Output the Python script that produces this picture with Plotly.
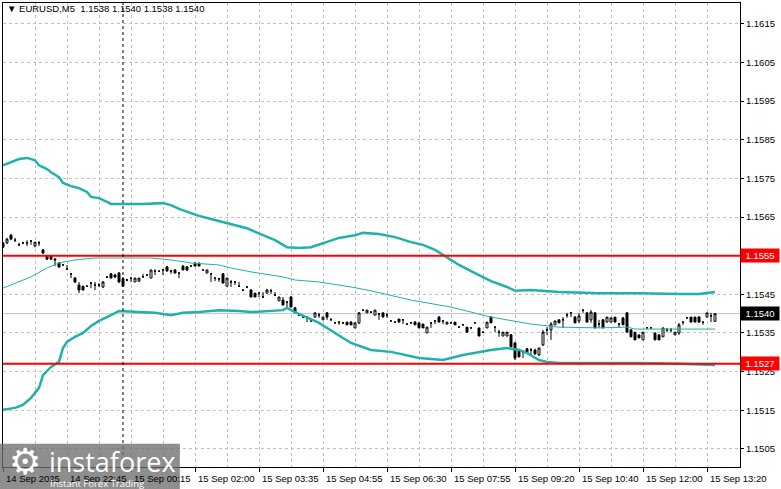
import plotly.graph_objects as go

# EURUSD M5, one bar every 5 minutes (bar index on the x axis)
bar_open = [
    1.15583, 1.15583, 1.15603, 1.15590, 1.15578, 1.15583, 1.15583, 1.15588, 1.15575, 1.15583,
    1.15565, 1.15549, 1.15549, 1.15541, 1.15531, 1.15526, 1.15515, 1.15503, 1.15492, 1.15474,
    1.15471, 1.15471, 1.15479, 1.15474, 1.15474, 1.15469, 1.15495, 1.15503, 1.15500, 1.15505,
    1.15490, 1.15487, 1.15492, 1.15482, 1.15484, 1.15495, 1.15500, 1.15492, 1.15510, 1.15510,
    1.15513, 1.15521, 1.15510, 1.15513, 1.15505, 1.15523, 1.15521, 1.15523, 1.15531, 1.15531,
    1.15513, 1.15505, 1.15503, 1.15492, 1.15490, 1.15503, 1.15471, 1.15482, 1.15482, 1.15471,
    1.15461, 1.15469, 1.15461, 1.15453, 1.15453, 1.15443, 1.15453, 1.15459, 1.15448, 1.15433,
    1.15435, 1.15430, 1.15443, 1.15415, 1.15396, 1.15391, 1.15391, 1.15381, 1.15391, 1.15396,
    1.15384, 1.15402, 1.15384, 1.15376, 1.15378, 1.15376, 1.15378, 1.15378, 1.15363, 1.15376,
    1.15409, 1.15402, 1.15404, 1.15396, 1.15399, 1.15402, 1.15396, 1.15381, 1.15378, 1.15386,
    1.15384, 1.15373, 1.15376, 1.15378, 1.15376, 1.15373, 1.15350, 1.15376, 1.15381, 1.15391,
    1.15381, 1.15373, 1.15376, 1.15378, 1.15365, 1.15371, 1.15365, 1.15363, 1.15376, 1.15363,
    1.15352, 1.15363, 1.15391, 1.15365, 1.15352, 1.15342, 1.15342, 1.15345, 1.15324, 1.15306,
    1.15301, 1.15309, 1.15306, 1.15306, 1.15293, 1.15319, 1.15358, 1.15358, 1.15371, 1.15384,
    1.15384, 1.15396, 1.15402, 1.15391, 1.15381, 1.15409, 1.15402, 1.15384, 1.15402, 1.15373,
    1.15384, 1.15378, 1.15378, 1.15391, 1.15373, 1.15389, 1.15402, 1.15358, 1.15352, 1.15345,
    1.15332, 1.15363, 1.15363, 1.15350, 1.15345, 1.15340, 1.15358, 1.15358, 1.15345, 1.15350,
    1.15378, 1.15389, 1.15391, 1.15391, 1.15391, 1.15378, 1.15391, 1.15394, 1.15380,
]
bar_high = [
    1.15585, 1.15596, 1.15606, 1.15596, 1.15583, 1.15583, 1.15590, 1.15588, 1.15585, 1.15588,
    1.15567, 1.15552, 1.15549, 1.15544, 1.15534, 1.15526, 1.15526, 1.15503, 1.15495, 1.15482,
    1.15471, 1.15471, 1.15482, 1.15482, 1.15479, 1.15484, 1.15495, 1.15505, 1.15503, 1.15508,
    1.15495, 1.15490, 1.15492, 1.15492, 1.15492, 1.15503, 1.15500, 1.15513, 1.15515, 1.15510,
    1.15513, 1.15523, 1.15513, 1.15515, 1.15505, 1.15526, 1.15523, 1.15523, 1.15531, 1.15531,
    1.15513, 1.15513, 1.15505, 1.15492, 1.15492, 1.15505, 1.15492, 1.15487, 1.15482, 1.15482,
    1.15461, 1.15469, 1.15464, 1.15453, 1.15453, 1.15456, 1.15464, 1.15464, 1.15456, 1.15443,
    1.15443, 1.15430, 1.15446, 1.15417, 1.15396, 1.15391, 1.15391, 1.15389, 1.15402, 1.15402,
    1.15391, 1.15404, 1.15389, 1.15376, 1.15378, 1.15376, 1.15378, 1.15381, 1.15376, 1.15404,
    1.15409, 1.15409, 1.15404, 1.15409, 1.15402, 1.15402, 1.15402, 1.15381, 1.15378, 1.15386,
    1.15386, 1.15373, 1.15376, 1.15381, 1.15376, 1.15373, 1.15365, 1.15376, 1.15381, 1.15394,
    1.15381, 1.15378, 1.15376, 1.15378, 1.15365, 1.15371, 1.15365, 1.15363, 1.15376, 1.15363,
    1.15352, 1.15378, 1.15394, 1.15365, 1.15358, 1.15352, 1.15352, 1.15347, 1.15327, 1.15309,
    1.15306, 1.15311, 1.15311, 1.15309, 1.15311, 1.15358, 1.15365, 1.15378, 1.15381, 1.15384,
    1.15391, 1.15402, 1.15402, 1.15394, 1.15402, 1.15409, 1.15404, 1.15409, 1.15404, 1.15384,
    1.15386, 1.15391, 1.15389, 1.15391, 1.15376, 1.15391, 1.15404, 1.15358, 1.15352, 1.15345,
    1.15352, 1.15363, 1.15363, 1.15350, 1.15345, 1.15363, 1.15363, 1.15363, 1.15352, 1.15376,
    1.15378, 1.15389, 1.15391, 1.15391, 1.15394, 1.15378, 1.15402, 1.15402, 1.15400,
]
bar_low = [
    1.15570, 1.15580, 1.15590, 1.15585, 1.15575, 1.15580, 1.15575, 1.15578, 1.15572, 1.15575,
    1.15554, 1.15539, 1.15541, 1.15523, 1.15518, 1.15526, 1.15513, 1.15492, 1.15479, 1.15453,
    1.15461, 1.15469, 1.15466, 1.15461, 1.15469, 1.15466, 1.15492, 1.15492, 1.15492, 1.15479,
    1.15469, 1.15484, 1.15482, 1.15482, 1.15482, 1.15495, 1.15497, 1.15492, 1.15500, 1.15508,
    1.15500, 1.15510, 1.15503, 1.15505, 1.15492, 1.15513, 1.15510, 1.15523, 1.15523, 1.15523,
    1.15513, 1.15505, 1.15482, 1.15484, 1.15482, 1.15479, 1.15471, 1.15469, 1.15474, 1.15471,
    1.15461, 1.15466, 1.15443, 1.15443, 1.15443, 1.15443, 1.15453, 1.15451, 1.15448, 1.15433,
    1.15422, 1.15417, 1.15417, 1.15402, 1.15394, 1.15391, 1.15378, 1.15381, 1.15391, 1.15389,
    1.15384, 1.15384, 1.15384, 1.15376, 1.15371, 1.15373, 1.15371, 1.15371, 1.15363, 1.15373,
    1.15409, 1.15402, 1.15402, 1.15396, 1.15384, 1.15391, 1.15389, 1.15381, 1.15378, 1.15378,
    1.15373, 1.15373, 1.15376, 1.15371, 1.15363, 1.15363, 1.15350, 1.15363, 1.15373, 1.15378,
    1.15373, 1.15373, 1.15376, 1.15371, 1.15365, 1.15371, 1.15352, 1.15363, 1.15376, 1.15342,
    1.15352, 1.15363, 1.15376, 1.15352, 1.15340, 1.15342, 1.15342, 1.15314, 1.15280, 1.15288,
    1.15285, 1.15296, 1.15293, 1.15293, 1.15290, 1.15316, 1.15345, 1.15332, 1.15371, 1.15376,
    1.15363, 1.15389, 1.15391, 1.15376, 1.15376, 1.15402, 1.15378, 1.15376, 1.15363, 1.15363,
    1.15363, 1.15378, 1.15378, 1.15378, 1.15363, 1.15371, 1.15352, 1.15340, 1.15332, 1.15337,
    1.15332, 1.15363, 1.15363, 1.15332, 1.15332, 1.15340, 1.15352, 1.15352, 1.15345, 1.15345,
    1.15371, 1.15389, 1.15378, 1.15378, 1.15376, 1.15371, 1.15391, 1.15378, 1.15380,
]
bar_close = [
    1.15572, 1.15593, 1.15593, 1.15590, 1.15578, 1.15583, 1.15583, 1.15588, 1.15585, 1.15583,
    1.15557, 1.15541, 1.15541, 1.15539, 1.15521, 1.15526, 1.15515, 1.15503, 1.15482, 1.15461,
    1.15461, 1.15471, 1.15479, 1.15474, 1.15474, 1.15482, 1.15495, 1.15492, 1.15495, 1.15482,
    1.15471, 1.15487, 1.15492, 1.15492, 1.15492, 1.15495, 1.15500, 1.15513, 1.15510, 1.15510,
    1.15513, 1.15510, 1.15510, 1.15505, 1.15505, 1.15513, 1.15513, 1.15523, 1.15523, 1.15523,
    1.15513, 1.15513, 1.15503, 1.15492, 1.15490, 1.15479, 1.15492, 1.15482, 1.15482, 1.15471,
    1.15461, 1.15469, 1.15443, 1.15443, 1.15453, 1.15443, 1.15461, 1.15459, 1.15448, 1.15443,
    1.15422, 1.15430, 1.15417, 1.15402, 1.15396, 1.15391, 1.15391, 1.15381, 1.15402, 1.15396,
    1.15391, 1.15391, 1.15384, 1.15376, 1.15378, 1.15376, 1.15371, 1.15371, 1.15376, 1.15402,
    1.15409, 1.15409, 1.15404, 1.15409, 1.15399, 1.15391, 1.15396, 1.15381, 1.15378, 1.15378,
    1.15384, 1.15373, 1.15376, 1.15371, 1.15363, 1.15363, 1.15365, 1.15376, 1.15381, 1.15378,
    1.15381, 1.15378, 1.15376, 1.15371, 1.15365, 1.15371, 1.15352, 1.15363, 1.15376, 1.15342,
    1.15352, 1.15378, 1.15376, 1.15365, 1.15352, 1.15352, 1.15352, 1.15314, 1.15285, 1.15288,
    1.15301, 1.15298, 1.15306, 1.15296, 1.15311, 1.15352, 1.15358, 1.15373, 1.15381, 1.15376,
    1.15384, 1.15396, 1.15402, 1.15376, 1.15394, 1.15409, 1.15378, 1.15404, 1.15363, 1.15373,
    1.15363, 1.15391, 1.15389, 1.15378, 1.15373, 1.15371, 1.15352, 1.15340, 1.15332, 1.15337,
    1.15352, 1.15363, 1.15363, 1.15332, 1.15332, 1.15363, 1.15358, 1.15358, 1.15352, 1.15371,
    1.15378, 1.15389, 1.15378, 1.15378, 1.15378, 1.15378, 1.15402, 1.15394, 1.15400,
]
bar_index = list(range(len(bar_close)))

# Bollinger bands, read at selected bars
upper_idx = [0, 2, 4, 6, 8, 9, 11, 12, 14, 15, 17, 19, 21, 22, 24, 26, 27, 35, 40, 42,
             44, 47, 49, 52, 57, 61, 65, 68, 71, 74, 77, 80, 84, 88, 90, 94, 98, 102, 105, 108,
             111, 114, 118, 122, 126, 128, 132, 139, 149, 159, 169, 174, 178]
upper_val = [1.15784, 1.15792, 1.15800, 1.15803, 1.15797, 1.15784, 1.15774, 1.15766, 1.15753, 1.15738,
             1.15730, 1.15725, 1.15715, 1.15702, 1.15699, 1.15689, 1.15684, 1.15684, 1.15686, 1.15681,
             1.15671, 1.15660, 1.15653, 1.15645, 1.15632, 1.15621, 1.15603, 1.15590, 1.15572, 1.15570,
             1.15572, 1.15583, 1.15596, 1.15603, 1.15609, 1.15606, 1.15598, 1.15585, 1.15578, 1.15565,
             1.15546, 1.15526, 1.15505, 1.15484, 1.15469, 1.15459, 1.15461, 1.15456, 1.15453, 1.15453,
             1.15451, 1.15451, 1.15456]
middle_idx = [0, 3, 7, 11, 14, 18, 23, 30, 37, 42, 47, 54, 57, 62, 70, 73, 79, 87, 92, 102,
              112, 122, 132, 139, 149, 156, 158, 168, 178]
middle_val = [1.15466, 1.15479, 1.15495, 1.15518, 1.15531, 1.15539, 1.15544, 1.15544, 1.15544, 1.15539,
              1.15531, 1.15526, 1.15518, 1.15508, 1.15495, 1.15487, 1.15482, 1.15469, 1.15459, 1.15435,
              1.15417, 1.15391, 1.15373, 1.15365, 1.15363, 1.15365, 1.15360, 1.15360, 1.15360]
lower_idx = [0, 3, 5, 7, 9, 10, 12, 14, 15, 16, 18, 20, 22, 24, 27, 29, 34, 38, 42, 45,
             49, 54, 59, 62, 70, 71, 73, 76, 79, 83, 87, 92, 97, 104, 110, 115, 122, 126, 129, 131,
             134, 136, 139, 149, 159, 169, 178]
lower_val = [1.15151, 1.15156, 1.15164, 1.15182, 1.15208, 1.15241, 1.15262, 1.15275, 1.15311, 1.15327,
             1.15340, 1.15350, 1.15368, 1.15381, 1.15396, 1.15407, 1.15404, 1.15402, 1.15396, 1.15402,
             1.15404, 1.15409, 1.15407, 1.15404, 1.15409, 1.15415, 1.15404, 1.15391, 1.15376, 1.15350,
             1.15324, 1.15306, 1.15301, 1.15285, 1.15280, 1.15293, 1.15306, 1.15311, 1.15306, 1.15298,
             1.15280, 1.15275, 1.15272, 1.15272, 1.15272, 1.15270, 1.15267]

# axis labels
price_ticks = [1.1505, 1.1515, 1.1525, 1.1535, 1.1545, 1.1555, 1.1565, 1.1575, 1.1585, 1.1595, 1.1605, 1.1615]
time_tick_idx = [0, 16, 32, 48, 64, 80, 96, 112, 128, 144, 160, 176]
time_labels = ["14 Sep 2025", "14 Sep 22:45", "15 Sep 00:15", "15 Sep 02:00", "15 Sep 03:35",
               "15 Sep 04:55", "15 Sep 06:30", "15 Sep 07:55", "15 Sep 09:20", "15 Sep 10:40",
               "15 Sep 12:00", "15 Sep 13:20"]
levels = [1.1555, 1.1527]
bid = 1.1540
crosshair_bar = 30

BAND = "#20b2aa"
FONT = "Liberation Sans"

fig = go.Figure()

fig.add_trace(go.Scatter(x=upper_idx, y=upper_val, mode="lines",
                         line=dict(color=BAND, width=2.5), hoverinfo="skip"))
fig.add_trace(go.Scatter(x=middle_idx, y=middle_val, mode="lines",
                         line=dict(color=BAND, width=1), hoverinfo="skip"))
fig.add_trace(go.Scatter(x=lower_idx, y=lower_val, mode="lines",
                         line=dict(color=BAND, width=2.5), hoverinfo="skip"))

fig.add_trace(go.Candlestick(
    x=bar_index, open=bar_open, high=bar_high, low=bar_low, close=bar_close,
    increasing=dict(line=dict(color="black", width=1), fillcolor="white"),
    decreasing=dict(line=dict(color="black", width=1), fillcolor="black"),
    whiskerwidth=0,
))

# bid line, support / resistance levels, vertical line
fig.add_hline(y=bid, line=dict(color="#c0c0c0", width=1), layer="below")
for lv in levels:
    fig.add_hline(y=lv, line=dict(color="#ff0000", width=2))
fig.add_vline(x=crosshair_bar, line=dict(color="black", width=1, dash="3px,3px"))

# price boxes on the right scale
for val, col in [(levels[0], "#ff0000"), (levels[1], "#ff0000"), (bid, "black")]:
    fig.add_annotation(x=1, xref="paper", xanchor="left", y=val, yref="y",
                       text=f"{val:.4f}", showarrow=False, bgcolor=col, width=36,
                       borderpad=1, font=dict(family=FONT, size=9.5, color="white"))

# time labels, MT4 style: left aligned at the tick
for idx, lab in zip(time_tick_idx, time_labels):
    fig.add_annotation(x=idx, xref="x", xanchor="left", xshift=1, y=-0.024, yref="paper",
                       yanchor="middle", text=lab, showarrow=False,
                       font=dict(family=FONT, size=9.5, color="black"))

fig.add_annotation(x=0.003, xref="paper", xanchor="left", y=0.988, yref="paper", yanchor="middle",
                   text="▼ EURUSD,M5  1.1538 1.1540 1.1538 1.1540", showarrow=False,
                   font=dict(family=FONT, size=9.5, color="black"))

# instaforex watermark
fig.add_shape(type="rect", xref="paper", yref="paper", x0=-0.005, x1=0.24, y0=-0.048, y1=0.05,
              fillcolor="rgba(110,110,110,0.78)", line=dict(width=0))
fig.add_annotation(x=0.030, xref="paper", xanchor="center", y=0.011, yref="paper", yanchor="middle",
                   text="⚙", showarrow=False,
                   font=dict(family="DejaVu Sans", size=36, color="white"))
fig.add_annotation(x=0.148, xref="paper", xanchor="center", y=0.012, yref="paper", yanchor="middle",
                   text="instaforex", showarrow=False,
                   font=dict(family="Open Sans", size=27, color="white"))
fig.add_annotation(x=0.061, xref="paper", xanchor="left", y=-0.035, yref="paper", yanchor="middle",
                   text="Instant Forex Trading", showarrow=False,
                   font=dict(family="Open Sans", size=9.5, color="white"))

fig.update_xaxes(
    range=[0, 184.25], showline=True, linecolor="black", linewidth=1, mirror=True,
    tickvals=time_tick_idx, showticklabels=False, ticks="outside", ticklen=4, tickcolor="black",
    showgrid=True, gridcolor="#c0c0c0", griddash="3px,3px", gridwidth=1,
    minor=dict(tickvals=[i + 8 for i in time_tick_idx], showgrid=True, gridcolor="#c0c0c0",
               griddash="3px,3px", ticks=""),
    zeroline=False, rangeslider_visible=False, fixedrange=True,
)
fig.update_yaxes(
    range=[1.15003, 1.16204], side="right", showline=True, linecolor="black", linewidth=1,
    mirror=True, tickvals=price_ticks, ticktext=[f"{p:.4f}" for p in price_ticks],
    ticks="outside", ticklen=3, tickcolor="black",
    tickfont=dict(family=FONT, size=9.5, color="black"),
    showgrid=True, gridcolor="#c0c0c0", griddash="3px,3px", gridwidth=1, zeroline=False,
)

fig.update_layout(
    width=781, height=489,
    margin=dict(l=3, r=41, t=3, b=22),
    paper_bgcolor="white", plot_bgcolor="white",
    showlegend=False,
    font=dict(family=FONT),
)

# the page keeps the browser's default body margin otherwise
fig.write_html("out.html", config={"displayModeBar": False},
               post_script="document.body.style.margin='0px';")
